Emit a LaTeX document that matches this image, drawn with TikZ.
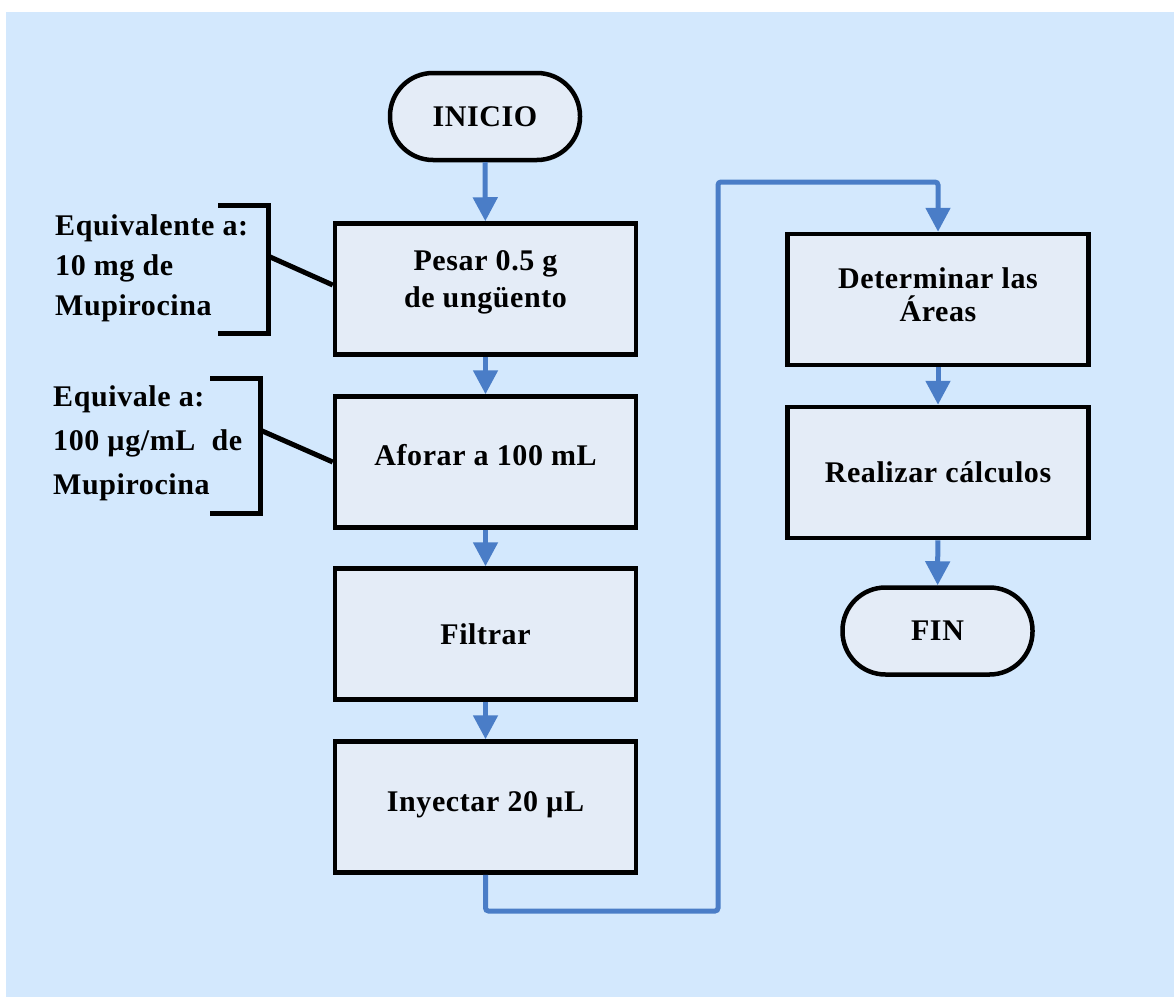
\documentclass[tikz,border=0pt]{standalone}
\usepackage{fontspec}
\setmainfont{Liberation Serif}[LetterSpace=2]
\usetikzlibrary{arrows.meta,calc}
\definecolor{bgblue}{HTML}{D3E8FD}
\definecolor{boxfill}{HTML}{E4ECF7}
\definecolor{arrblue}{HTML}{4A7DC7}
\tikzset{
  stepbox/.style={draw=black, line width=4.5pt, fill=boxfill, minimum width=301pt, minimum height=131pt, align=center, inner sep=0pt},
  termbox/.style={draw=black, line width=4.5pt, fill=boxfill, rounded corners=43pt, minimum width=190pt, minimum height=87pt, inner sep=0pt},
  flow/.style={draw=arrblue, line width=5pt, -{Triangle[width=24pt,length=24pt]}},
  brack/.style={draw=black, line width=5pt},
  note/.style={align=left, anchor=west, inner sep=0pt},
  txt/.style={font=\bfseries\fontsize{30}{37}\selectfont}
}
\newcommand{\liftlines}[2]{\raisebox{#1}[\height][\depth]{\begin{tabular}{@{}c@{}}#2\end{tabular}}}
\begin{document}
\begin{tikzpicture}[x=1pt,y=-1pt]
\useasboundingbox (0,0) rectangle (1174,998);
\fill[white] (0,0) rectangle (1174,998);
\fill[bgblue] (6,12) rectangle (1174,997);

\node[termbox, txt] (inicio) at (485,116.5) {INICIO};
\node[stepbox, txt] (b1) at (485.5,289) {\liftlines{7pt}{Pesar 0.5 g\\de ungüento}};
\node[stepbox, txt] (b2) at (485.5,462) {\liftlines{4pt}{Aforar a 100 mL}};
\node[stepbox, txt] (b3) at (485.5,634) {Filtrar};
\node[stepbox, txt] (b4) at (485.5,807) {\liftlines{3pt}{Inyectar 20 µL}};
\node[stepbox, txt] (b5) at (938,299.5) {\liftlines{2pt}{Determinar las\\[-4pt]Áreas}};
\node[stepbox, txt] (b6) at (938,472.5) {Realizar cálculos};
\node[termbox, txt] (fin) at (937.5,631) {FIN};

\draw[flow] (inicio) -- (b1);
\draw[flow] (b1) -- (b2);
\draw[flow] (b2) -- (b3);
\draw[flow] (b3) -- (b4);
\coordinate (c1) at (485.5,911);
\coordinate (c2) at (718,911);
\coordinate (c3) at (718,182);
\coordinate (c4) at (938,182);
\draw[flow, rounded corners=3pt] (b4.south) -- (c1) -- (c2) -- (c3) -- (c4) -- (b5.north);
\draw[flow] (b5) -- (b6);
\draw[flow] (b6) -- (fin);

% notes
\node[note, font=\bfseries\fontsize{30}{40}\selectfont] (n1) at (55,268) {Equivalente a:\\10 mg de\\Mupirocina};
\node[note, font=\bfseries\fontsize{30}{44}\selectfont] (n2) at (53,443) {Equivale a:\\100 µg/mL\ \ de\\Mupirocina};

\coordinate (k1) at (268,256);
\coordinate (k2) at (260,430);
\draw[brack] (218,205) -- (268,205) -- (268,333) -- (218,333);
\draw[brack] (k1) -- ($(b1.west)+(0,-4)$);
\draw[brack] (210,378) -- (260,378) -- (260,513) -- (210,513);
\draw[brack] (k2) -- (b2.west);
\end{tikzpicture}
\end{document}
